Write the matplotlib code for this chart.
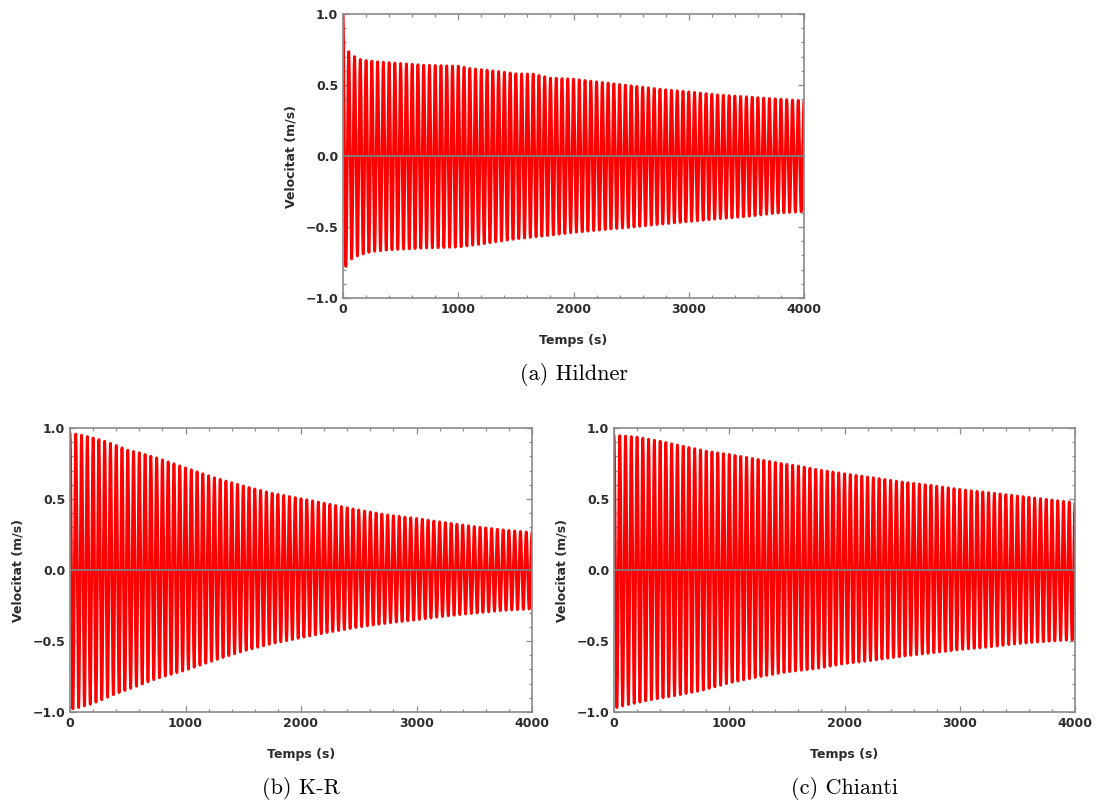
import numpy as np
import matplotlib
matplotlib.use("Agg")
import matplotlib.pyplot as plt
from matplotlib.ticker import MultipleLocator, FixedLocator

# visible oscillation period (s) and time span
period = 50.0
t_end = 4000

# envelope: (time, peak) for upper and lower swings
hildner_t_up = [0, 50, 100, 150, 200, 300, 500, 700, 1000, 1100, 1300, 1500, 1650, 1800,
                2000, 2250, 2500, 2750, 3000, 3250, 3500, 3750, 4000]
hildner_up = [1.0, 0.734, 0.70, 0.68, 0.673, 0.664, 0.652, 0.64, 0.633, 0.617, 0.60, 0.58, 0.577, 0.549,
              0.542, 0.518, 0.495, 0.471, 0.452, 0.431, 0.417, 0.403, 0.389]
hildner_t_lo = [0, 25, 80, 150, 250, 400, 700, 1000, 1250, 1500, 1750, 2000, 2250, 2500,
                2750, 3000, 3250, 3500, 3750, 4000]
hildner_lo = [-0.78, -0.778, -0.72, -0.696, -0.673, -0.661, -0.649, -0.642, -0.614, -0.584, -0.563, -0.539,
              -0.52, -0.502, -0.481, -0.462, -0.443, -0.427, -0.403, -0.392]

kr_t_up = [0, 100, 200, 300, 400, 500, 600, 750, 1000, 1250, 1500, 1750, 2000, 2250, 2500,
           2750, 3000, 3250, 3500, 3750, 4000]
kr_up = [0.965, 0.95, 0.93, 0.907, 0.877, 0.844, 0.826, 0.79, 0.72, 0.65, 0.592, 0.54, 0.503, 0.463, 0.423,
         0.388, 0.363, 0.334, 0.306, 0.283, 0.264]
kr_t_lo = [0, 80, 200, 300, 400, 500, 750, 1000, 1250, 1500, 1750, 2000, 2250, 2500, 2750,
           3000, 3250, 3500, 3750, 4000]
kr_lo = [-0.982, -0.968, -0.94, -0.905, -0.87, -0.842, -0.765, -0.706, -0.636, -0.571, -0.519, -0.477,
         -0.437, -0.402, -0.374, -0.351, -0.325, -0.304, -0.285, -0.274]

chianti_t_up = [0, 200, 400, 600, 800, 1000, 1250, 1500, 1600, 1750, 2000, 2250, 2500, 2750,
                3000, 3250, 3500, 3750, 4000]
chianti_up = [0.95, 0.936, 0.907, 0.872, 0.837, 0.814, 0.779, 0.744, 0.732, 0.709, 0.678, 0.65, 0.62,
              0.596, 0.568, 0.545, 0.522, 0.498, 0.475]
chianti_t_lo = [0, 100, 300, 500, 750, 1000, 1250, 1500, 1750, 2000, 2250, 2500, 2750, 3000,
                3250, 3500, 3750, 4000]
chianti_lo = [-0.975, -0.952, -0.917, -0.889, -0.851, -0.795, -0.753, -0.718, -0.695, -0.66, -0.636,
              -0.608, -0.585, -0.561, -0.543, -0.519, -0.503, -0.491]

captions = ["(a) Hildner", "(b) K-R", "(c) Chianti"]
x_ticks = [0, 1000, 2000, 3000, 4000]
y_ticks = [-1.0, -0.5, 0.0, 0.5, 1.0]
y_ticklabels = ["\u22121.0", "\u22120.5", "0.0", "0.5", "1.0"]

frame_col = "#8a8a8a"
text_col = "#2b2b2b"

plt.rcParams["font.family"] = "DejaVu Sans"

fig = plt.figure(figsize=(10.96, 8.05), dpi=100)
W, H = 1096, 805


def make_axes(left, right, top, bottom):
    return fig.add_axes([left / W, 1 - bottom / H, (right - left) / W, (bottom - top) / H])


def velocity(t_up, up, t_lo, lo):
    t = np.linspace(0, t_end, 40001)
    c = np.cos(2 * np.pi * t / period)
    env_up = np.interp(t, t_up, up)
    env_lo = np.interp(t, t_lo, lo)
    v = np.where(c >= 0, env_up * c, -env_lo * c)
    return t, v


def draw(ax, t_up, up, t_lo, lo, caption):
    t, v = velocity(t_up, up, t_lo, lo)
    ax.plot(t, v, color="#ff0000", lw=2.0, zorder=2, solid_joinstyle="round",
            solid_capstyle="butt")
    ax.axhline(0, color="#7f7f7f", lw=1.3, zorder=3)
    ax.set_xlim(0, t_end)
    ax.set_ylim(-1.0, 1.0)
    ax.xaxis.set_major_locator(FixedLocator(x_ticks))
    ax.xaxis.set_minor_locator(MultipleLocator(200))
    ax.yaxis.set_major_locator(FixedLocator(y_ticks))
    ax.set_yticklabels(y_ticklabels)
    ax.yaxis.set_minor_locator(MultipleLocator(0.1))
    ax.tick_params(which="both", direction="in", top=True, right=True, color=frame_col,
                   labelcolor=text_col, labelsize=9, width=0.9)
    ax.tick_params(which="major", length=4.5)
    ax.tick_params(which="minor", length=2.5)
    for lab in ax.get_xticklabels() + ax.get_yticklabels():
        lab.set_fontweight("bold")
    for sp in ax.spines.values():
        sp.set_color(frame_col)
        sp.set_linewidth(1.2)
        sp.set_zorder(4)
    ax.set_xlabel("Temps (s)", fontsize=9, fontweight="bold", color=text_col, labelpad=13)
    ax.set_ylabel("Velocitat (m/s)", fontsize=9, fontweight="bold", color=text_col, labelpad=6)
    ax.text(0.5, -0.27, caption, transform=ax.transAxes, ha="center", va="center",
            fontsize=16, family="cmr10", color="black")


ax_a = make_axes(343, 804, 14, 298)
ax_b = make_axes(70, 532, 428, 712)
ax_c = make_axes(614, 1075, 428, 712)

draw(ax_a, hildner_t_up, hildner_up, hildner_t_lo, hildner_lo, captions[0])
draw(ax_b, kr_t_up, kr_up, kr_t_lo, kr_lo, captions[1])
draw(ax_c, chianti_t_up, chianti_up, chianti_t_lo, chianti_lo, captions[2])

fig.savefig("out.png", dpi=100)
